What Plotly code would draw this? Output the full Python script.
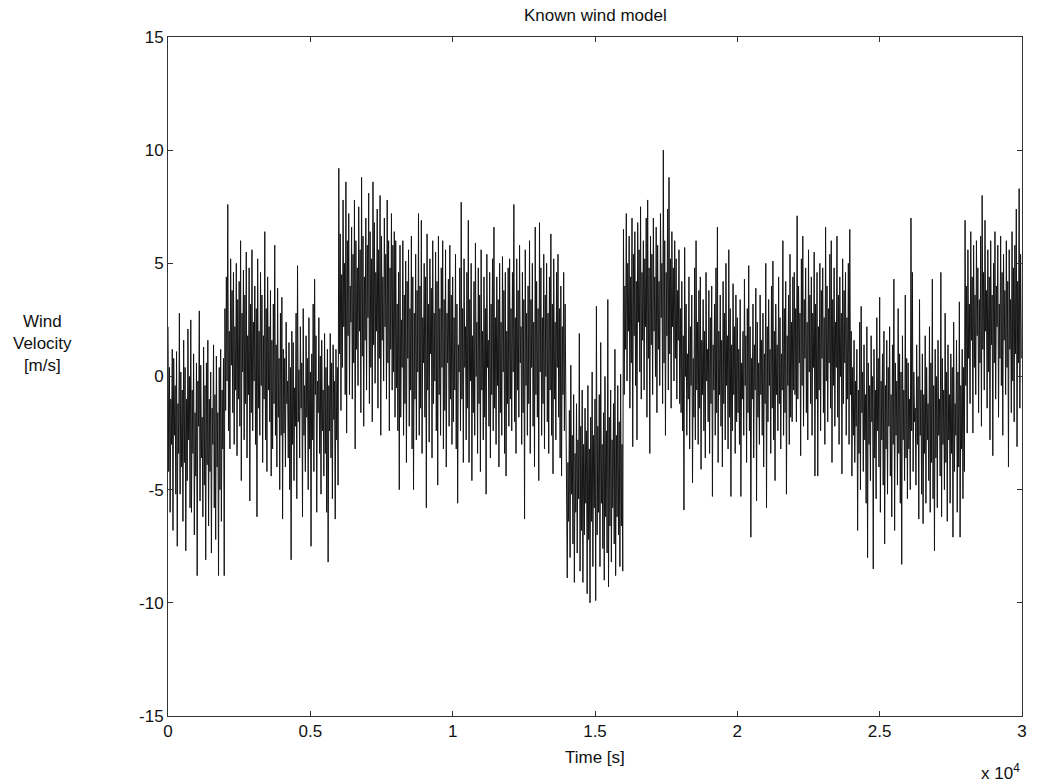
import numpy as np
import plotly.graph_objects as go

# Wind velocity samples [m/s], one list per 2000 s block, 25 s between samples
SAMPLE_STEP = 25

wind_00_02k = [2.2, -4.2, 0.4, -6.0, -1.0, -3.0, 1.2, -6.8, 0.8, -2.6, -0.4, -5.2, 1.1, -7.5, -1.2, -3.4, 2.8, -5.2, 0.2, -4.0,
               -0.6, -6.4, 1.6, -3.8, 0.4, -7.7, -1.0, -4.6, 2.1, -2.8, 0.0, -5.8, 2.5, -6.0, -0.6, -3.4, 1.0, -7.0, -1.6, -4.4,
               0.6, -8.8, -0.2, -2.2, 2.9, -5.5, 0.5, -3.6, -1.8, -6.2, 1.3, -4.8, -0.4, -8.1, 0.6, -3.9, 1.6, -6.6, -1.0, -4.2,
               0.2, -7.8, -1.4, -3.0, 1.4, -5.8, -0.8, -7.2, 0.9, -4.0, -1.6, -8.8, 0.4, -5.0, 1.2, -6.4, -0.6, -3.2, 0.8, -8.8]
wind_02_04k = [3.0, -1.5, 4.4, -0.2, 7.6, -2.4, 2.0, -3.2, 5.2, 0.5, 3.8, -1.6, 4.6, -3.0, 2.2, -0.6, 5.0, -3.5, 3.4, -1.0,
               4.2, -2.2, 6.0, -4.6, 2.8, 0.2, 4.7, -2.8, 3.6, -1.2, 5.5, -3.6, 1.8, -0.8, 4.8, -5.5, 3.2, -1.6, 5.6, -2.4,
               2.4, -0.2, 4.0, -3.0, 3.0, -6.2, 5.2, -1.4, 2.0, -2.6, 4.6, -0.4, 3.6, -3.8, 1.8, -1.0, 6.4, -2.8, 3.0, -4.2,
               4.4, -0.6, 2.2, -2.0, 3.8, -4.4, 1.6, -3.2, 3.2, -1.2, 5.8, -2.6, 1.4, -4.0, 3.9, -1.8, 0.8, -5.0, 2.8, -2.6]
wind_04_06k = [3.5, -6.3, 1.2, -2.5, 0.8, -4.0, 2.4, -1.2, -0.2, -3.6, 1.5, -5.0, 0.4, -8.1, 2.0, -3.0, 1.5, -4.6, -0.5, -2.2,
               2.8, -5.4, 4.9, -2.0, 0.3, -3.6, 2.2, -1.4, 0.6, -6.2, 3.0, -2.6, -0.4, -4.2, 1.8, -1.8, 0.8, -5.0, 2.6, -3.2,
               0.2, -7.5, 1.0, -2.8, 3.2, -4.2, 4.3, -0.8, 1.8, -6.0, -0.2, -1.6, 2.6, -3.4, 0.9, -5.2, 1.6, -2.4, -0.6, -4.4,
               1.9, -3.4, 0.4, -6.0, 1.2, -8.2, -0.4, -2.4, 1.9, -3.6, 0.6, -5.4, 1.4, -1.9, -0.2, -6.3, 1.2, -2.8, 0.4, -4.8]
wind_06_08k = [9.2, 1.0, 6.3, -1.5, 4.5, 0.4, 7.8, 2.2, 5.0, -0.8, 8.6, -2.5, 6.0, 1.8, 7.2, -0.8, 4.0, 2.4, 6.6, -1.0,
               5.4, 0.6, 7.8, -3.2, 6.0, 1.2, 4.8, -0.4, 7.5, 2.0, 5.6, -1.6, 8.8, 0.9, 6.2, -2.2, 4.4, 1.6, 7.0, -0.6,
               5.8, 2.6, 8.1, -1.2, 6.4, 0.4, 5.2, -2.0, 8.6, 1.4, 6.8, -0.3, 4.6, 2.0, 7.4, -1.4, 5.6, 0.8, 8.0, -2.6,
               6.2, 1.6, 4.4, -0.2, 7.0, 2.2, 5.4, -1.0, 7.8, 0.6, 6.0, -2.4, 4.8, 1.2, 7.2, -0.6, 5.8, 0.2, 6.4, -1.8]
wind_08_10k = [6.0, -0.5, 3.2, -2.4, 4.6, -5.0, 5.8, -1.8, 2.5, 0.4, 6.0, -2.6, 3.6, -1.2, 5.1, -3.8, 4.2, 0.8, 5.6, -2.2,
               3.0, -0.6, 6.2, -3.2, 4.4, -5.0, 2.8, -1.0, 5.4, -2.8, 3.8, 0.2, 7.2, -2.6, 4.0, -1.4, 6.9, -3.4, 2.6, 0.6,
               5.0, -1.8, 4.4, -5.8, 6.3, -0.6, 3.2, -2.9, 5.2, 1.0, 3.9, -3.6, 6.0, -1.2, 2.8, -0.2, 5.5, -2.4, 4.2, -4.8,
               6.2, -0.8, 3.0, -2.6, 4.8, 0.4, 6.0, -3.2, 3.4, -1.5, 5.6, -4.0, 2.8, 0.6, 4.3, -2.2, 5.8, -1.0, 3.6, -3.0]
wind_10_12k = [4.4, -2.0, 2.6, -0.6, 5.4, -3.2, 3.2, -5.6, 1.4, 0.2, 4.8, -2.4, 7.7, -1.0, 3.0, -3.8, 5.2, 0.4, 2.2, -2.8,
               4.6, -1.4, 6.9, -3.8, 3.4, -0.2, 5.0, -4.6, 1.8, -1.6, 4.2, -2.6, 5.9, 0.0, 2.4, -3.4, 4.8, -1.2, 3.6, -4.2,
               5.6, -0.6, 2.0, -2.8, 4.4, -1.8, 3.0, -5.2, 5.4, 0.4, 1.6, -2.2, 4.6, -3.6, 3.2, -0.8, 5.2, -2.4, 6.6, -1.4,
               2.6, -3.0, 4.4, -0.4, 3.4, -4.0, 5.0, -1.6, 2.4, -2.6, 5.3, 0.2, 3.8, -3.4, 4.6, -4.4, 2.0, -1.2, 4.8, -2.2]
wind_12_14k = [5.2, -1.0, 3.0, -2.4, 4.6, 0.2, 7.6, -2.0, 2.6, -3.4, 5.2, -0.6, 3.8, -1.8, 5.8, 0.6, 2.2, -3.0, 4.6, -1.6,
               3.4, -6.3, 5.6, -0.4, 2.8, -2.6, 4.0, -1.2, 6.0, -3.4, 3.4, 0.4, 5.0, -2.2, 2.4, -4.0, 6.6, -0.8, 4.2, -1.8,
               3.0, -4.6, 6.8, 0.2, 4.8, -2.6, 2.6, -1.2, 5.4, -3.2, 3.6, 0.0, 5.0, -2.0, 2.8, -3.4, 4.4, -0.6, 6.3, -2.6,
               3.2, -4.3, 5.2, -1.0, 2.4, -2.8, 4.6, 0.4, 5.4, -1.8, 3.0, -3.6, 4.0, -4.4, 2.2, -0.8, 4.6, -2.4, 3.2, -1.2]
wind_14_16k = [-2.0, -8.9, -3.8, -6.4, -1.5, -8.0, 0.5, -5.2, -2.6, -7.4, -0.8, -9.1, -3.4, -6.0, -1.2, -7.8, -2.8, -5.4, 1.9, -8.6,
               -2.2, -6.8, -0.6, -9.1, -3.0, -7.0, -1.4, -5.6, -2.4, -9.6, -0.4, -7.2, -3.2, -10.0, -1.8, -6.4, 0.2, -8.4, -2.6, -5.8,
               -1.0, -9.9, 3.1, -7.0, -2.2, -6.0, -0.8, -8.4, 1.5, -5.6, -3.0, -7.6, -1.6, -9.0, 0.0, -6.2, -2.4, -7.8, 3.4, -9.3,
               -1.8, -6.6, -0.6, -8.2, -2.8, -5.8, -1.2, -7.4, 1.2, -8.8, -2.6, -6.2, -0.4, -7.0, -2.0, -8.4, 0.1, -6.6, -3.0, -8.6]
wind_16_18k = [6.5, -0.8, 4.0, 1.2, 7.2, -0.2, 5.0, 2.0, 6.2, -1.4, 4.4, 0.6, 7.0, -3.1, 5.4, 1.8, 6.4, -0.4, 4.2, -2.8,
               6.8, 2.4, 5.6, 0.2, 7.5, -1.0, 4.6, 1.6, 6.0, -0.6, 5.2, 2.2, 7.0, -1.8, 7.8, 0.8, 4.8, -3.4, 6.2, 1.4,
               5.4, -0.8, 7.0, 2.0, 4.4, 0.0, 6.6, -1.6, 5.8, 1.2, 4.2, -0.4, 7.2, 2.6, 5.0, -1.2, 10.0, 0.6, 6.0, -2.6,
               4.6, 1.8, 7.4, -0.6, 8.8, 1.0, 5.2, -1.4, 6.4, 2.2, 4.8, -0.2, 6.0, 0.8, 5.2, -1.0, 3.8, 1.6, 5.6, -1.2]
wind_18_20k = [3.0, -1.6, 4.2, -2.4, 1.8, -5.9, 5.7, 0.0, 3.2, -2.6, 1.0, -1.0, 4.4, -3.2, 2.2, -0.4, 3.6, -4.7, 0.8, -1.8,
               4.8, -2.8, 6.0, -0.6, 2.4, -3.0, 3.8, -1.4, 4.4, -4.1, 1.6, -0.8, 3.4, -2.4, 2.0, -3.6, 4.6, -0.2, 1.2, -2.0,
               3.8, -3.4, 2.6, -1.2, 4.0, -5.3, 1.4, -0.6, 3.2, -2.6, 4.8, -1.6, 6.6, -3.8, 2.0, -0.8, 3.6, -2.2, 1.6, -4.0,
               4.2, -1.2, 2.8, -2.8, 5.0, -0.4, 1.8, -3.2, 5.6, -1.8, 3.0, -5.3, 1.4, -2.4, 4.1, -0.8, 2.2, -3.4, 3.6, -2.0]
wind_20_22k = [2.6, -1.6, 1.2, -3.0, 3.4, -5.3, 0.6, -1.0, 2.0, -2.6, 4.3, -0.4, 1.8, -3.8, 3.0, -1.6, 4.9, -2.4, 2.2, -7.1,
               0.8, -1.0, 3.2, -3.6, 1.4, -0.6, 3.9, -5.5, 2.4, -1.8, 0.6, -3.0, 3.6, -0.8, 1.6, -2.6, 2.8, -4.0, 1.0, -1.2,
               5.0, -5.8, 2.2, -2.0, 3.4, -0.4, 1.2, -3.4, 4.0, -1.4, 5.1, -2.8, 2.0, -4.6, 3.2, -0.8, 1.4, -2.4, 4.4, -1.2,
               2.6, -3.2, 1.0, -0.6, 6.0, -2.6, 3.0, -1.6, 4.2, -5.2, 1.8, -0.4, 3.6, -3.0, 5.4, -1.8, 2.4, -2.0, 4.4, -0.6]
wind_22_24k = [4.6, -0.8, 3.0, -2.0, 7.1, -1.0, 4.0, 0.6, 2.8, -3.5, 5.2, -0.4, 6.2, -2.2, 3.4, 0.8, 4.8, -1.6, 2.4, -2.8,
               5.6, 0.2, 3.6, -1.2, 4.4, -2.6, 2.8, 0.4, 5.5, -4.4, 3.2, -1.0, 4.6, -4.4, 2.2, -0.6, 5.0, -2.4, 3.8, 0.8,
               4.8, -1.6, 2.6, -3.0, 6.6, -0.2, 4.0, -2.0, 3.0, 0.6, 5.4, -1.4, 6.0, -3.8, 3.4, -0.4, 4.8, -2.2, 2.4, 0.4,
               6.2, -1.8, 3.6, -3.0, 4.4, 0.0, 2.8, -4.3, 5.2, -1.2, 3.8, 0.6, 4.6, -2.6, 2.6, -1.0, 5.0, -3.0, 6.5, -0.8]
wind_24_26k = [2.0, -4.4, 0.4, -2.6, 1.6, -3.8, -0.2, -2.2, 1.2, -6.8, -0.6, -3.4, 2.4, -5.0, 3.1, -1.6, 0.2, -4.2, 1.4, -2.8,
               -0.8, -5.6, 2.2, -8.0, 0.6, -3.0, -0.4, -4.6, 1.8, -2.0, 0.0, -8.5, 1.2, -3.6, -0.6, -5.4, 2.6, -2.4, 0.8, -4.0,
               3.5, -6.0, -0.2, -2.8, 1.0, -4.8, 2.0, -7.4, -0.4, -3.2, 1.6, -5.2, 0.4, -2.2, 2.2, -4.4, -0.8, -6.2, 1.4, -3.0,
               4.3, -6.8, 0.6, -2.6, -0.2, -4.8, 3.0, -3.4, 1.0, -5.6, 0.2, -8.3, 1.8, -2.8, -0.6, -4.6, 3.6, -3.6, 0.8, -5.4]
wind_26_28k = [0.6, -3.2, -1.0, -5.0, 7.0, -2.4, 4.6, -4.2, 0.2, -2.0, -1.4, -4.8, 1.4, -3.0, 0.0, -6.3, 3.4, -2.6, -0.6, -5.2,
               1.0, -6.5, -0.8, -3.4, 1.8, -5.6, 0.4, -2.8, -1.2, -4.6, 2.2, -6.0, 0.6, -3.8, 4.3, -5.4, -0.4, -7.7, 1.2, -3.6,
               0.0, -5.8, 1.6, -2.6, -1.0, -4.4, 4.6, -6.2, 0.8, -3.0, -0.6, -5.0, 2.8, -3.8, 0.2, -6.4, 1.4, -2.8, -0.8, -5.6,
               1.0, -3.4, 0.4, -7.1, 2.4, -4.2, -1.2, -2.6, 1.6, -6.0, 0.2, -4.0, 3.3, -7.1, -0.4, -3.2, 1.2, -5.4, 0.4, -4.2]
wind_28_30k = [6.9, -0.4, 4.0, -2.5, 5.6, 0.8, 3.2, -1.2, 6.4, 1.6, 4.4, -2.5, 5.8, 0.4, 3.6, -0.8, 6.0, 1.8, 4.8, -1.6,
               3.4, 0.6, 6.2, -2.2, 8.0, 1.2, 4.6, -0.6, 6.9, 2.0, 3.8, -1.4, 5.6, 0.2, 4.4, -2.8, 6.0, 1.4, 3.6, -3.5,
               5.0, 0.6, 6.4, -1.0, 4.0, 2.2, 5.8, -1.8, 3.2, 0.8, 6.2, -0.4, 4.6, -2.6, 5.4, 1.6, 3.8, -0.8, 6.0, 0.4,
               4.2, -4.0, 5.6, 1.2, 3.4, -1.6, 6.4, -0.2, 4.8, -2.0, 5.8, 1.0, 7.4, -3.1, 4.2, 0.6, 8.3, -1.4, 5.4, 0.8]

x_tick_values = [0, 5000, 10000, 15000, 20000, 25000, 30000]
x_tick_labels = ["0", "0.5", "1", "1.5", "2", "2.5", "3"]
y_tick_values = [-15, -10, -5, 0, 5, 10, 15]

blocks = [wind_00_02k, wind_02_04k, wind_04_06k, wind_06_08k, wind_08_10k,
          wind_10_12k, wind_12_14k, wind_14_16k, wind_16_18k, wind_18_20k,
          wind_20_22k, wind_22_24k, wind_24_26k, wind_26_28k, wind_28_30k]
velocity = np.concatenate([np.asarray(b, dtype=float) for b in blocks])
time_s = np.arange(velocity.size) * SAMPLE_STEP

FONT = "Liberation Sans, Arial, sans-serif"
INK = "#111111"

fig = go.Figure()
fig.add_trace(go.Scatter(
    x=time_s, y=velocity, mode="lines",
    line=dict(color="#141414", width=1.0),
    hoverinfo="skip", showlegend=False,
))

axis_common = dict(
    showgrid=False, zeroline=False,
    showline=True, linecolor="#333333", linewidth=1,
    mirror="ticks", ticks="inside", ticklen=5, tickwidth=1, tickcolor="#333333",
    tickfont=dict(family=FONT, size=17, color=INK),
)

fig.update_xaxes(range=[0, 30000], tickmode="array",
                 tickvals=x_tick_values, ticktext=x_tick_labels, **axis_common)
fig.update_yaxes(range=[-15, 15], tickmode="array",
                 tickvals=y_tick_values, ticktext=[str(v) for v in y_tick_values],
                 **axis_common)

fig.update_layout(
    width=1038, height=782,
    margin=dict(l=168, r=11, t=37, b=66),
    paper_bgcolor="white", plot_bgcolor="white",
    font=dict(family=FONT, size=17, color=INK),
    annotations=[
        dict(text="Known wind model", xref="paper", yref="paper",
             x=0.5, y=1.031, xanchor="center", yanchor="middle",
             showarrow=False, font=dict(size=17)),
        dict(text="Time [s]", xref="paper", yref="paper",
             x=0.5, y=-0.0604, xanchor="center", yanchor="middle",
             showarrow=False, font=dict(size=17)),
        dict(text="x 10<sup>4</sup>", xref="paper", yref="paper",
             x=1.0, y=-0.083, xanchor="right", yanchor="middle",
             showarrow=False, font=dict(size=17)),
        dict(text="Wind<br>Velocity<br>[m/s]", xref="paper", yref="paper",
             x=-0.1467, y=0.549, xanchor="center", yanchor="middle",
             align="center", showarrow=False, font=dict(size=17)),
    ],
)

fig.write_html("out.html")
